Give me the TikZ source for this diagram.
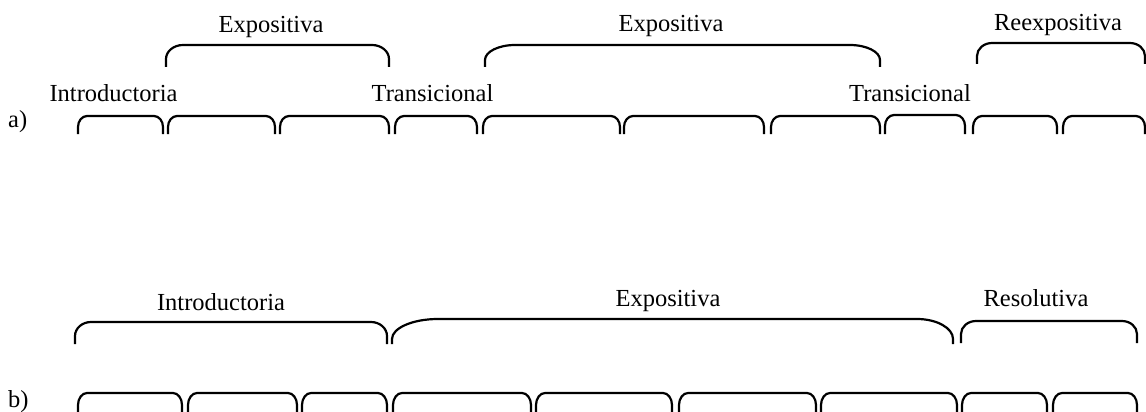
\documentclass[tikz,border=0pt]{standalone}
\usepackage{fontspec}
\setmainfont{Liberation Serif}
% brace: x1, x2, ytop, ybot, rx-left, rx-right, ry
\newcommand\brc[7]{\draw[brace] (#1,#4) -- (#1,{#3+#7})
  .. controls (#1,{#3+0.45*#7}) and ({#1+0.45*#5},#3) .. ({#1+#5},#3)
  -- ({#2-#6},#3)
  .. controls ({#2-0.45*#6},#3) and (#2,{#3+0.45*#7}) .. (#2,{#3+#7})
  -- (#2,#4);}
\begin{document}
\begin{tikzpicture}[x=1pt,y=-1pt,
  brace/.style={line width=2.2pt,black},
  lbl/.style={font=\fontsize{24.5}{28}\selectfont,inner sep=0pt,anchor=base}]
\useasboundingbox (0,0) rectangle (1146,412);
% ---- row a ----
\node[lbl,anchor=base west] (la) at (8,127) {a)};
\node[lbl] (ea1) at (271,33) {Expositiva};
\node[lbl] (ea2) at (671,32) {Expositiva};
\node[lbl] (ra) at (1058,31) {Reexpositiva};
\node[lbl] (ia) at (113.5,101) {Introductoria};
\node[lbl] (tra1) at (432.5,101) {Transicional};
\node[lbl] (tra2) at (910,102) {Transicional};
% upper braces a
\brc{166}{389}{45}{67}{17}{17}{14}
\brc{485}{880}{45}{67}{30}{30}{15}
\brc{977}{1145}{43}{64}{15}{15}{13}
% small braces a
\brc{78}{163}{116}{134}{9}{9}{11}
\brc{168}{275}{116}{134}{9}{9}{11}
\brc{280}{389}{116}{134}{9}{9}{11}
\brc{395}{477}{116}{134}{9}{9}{11}
\brc{483}{620}{116}{134}{9}{9}{11}
\brc{624}{764}{116}{134}{9}{9}{11}
\brc{771}{880}{116}{134}{9}{9}{11}
\brc{885}{965}{115}{134}{9}{9}{11}
\brc{973}{1057}{116}{134}{9}{9}{11}
\brc{1063}{1145}{116}{134}{9}{9}{11}
% ---- row b ----
\node[lbl,anchor=base west] (lb) at (8,407) {b)};
\node[lbl] (ib) at (221,310) {Introductoria};
\node[lbl] (eb) at (668,306) {Expositiva};
\node[lbl] (rb) at (1036,306) {Resolutiva};
% upper braces b
\brc{75}{387}{322}{344}{16}{16}{14}
\brc{392}{953}{319}{344}{46}{36}{20}
\brc{961}{1137}{321}{343}{15}{15}{13}
% small braces b
\brc{78}{182}{393}{414}{9}{9}{12}
\brc{188}{297}{393}{414}{9}{9}{12}
\brc{302}{387}{393}{414}{9}{9}{12}
\brc{393}{531}{393}{414}{9}{9}{12}
\brc{536}{672}{393}{414}{9}{9}{12}
\brc{679}{816}{393}{414}{9}{9}{12}
\brc{821}{957}{393}{414}{9}{9}{12}
\brc{962}{1047}{393}{414}{9}{9}{12}
\brc{1053}{1137}{393}{414}{9}{9}{12}
\end{tikzpicture}
\end{document}
